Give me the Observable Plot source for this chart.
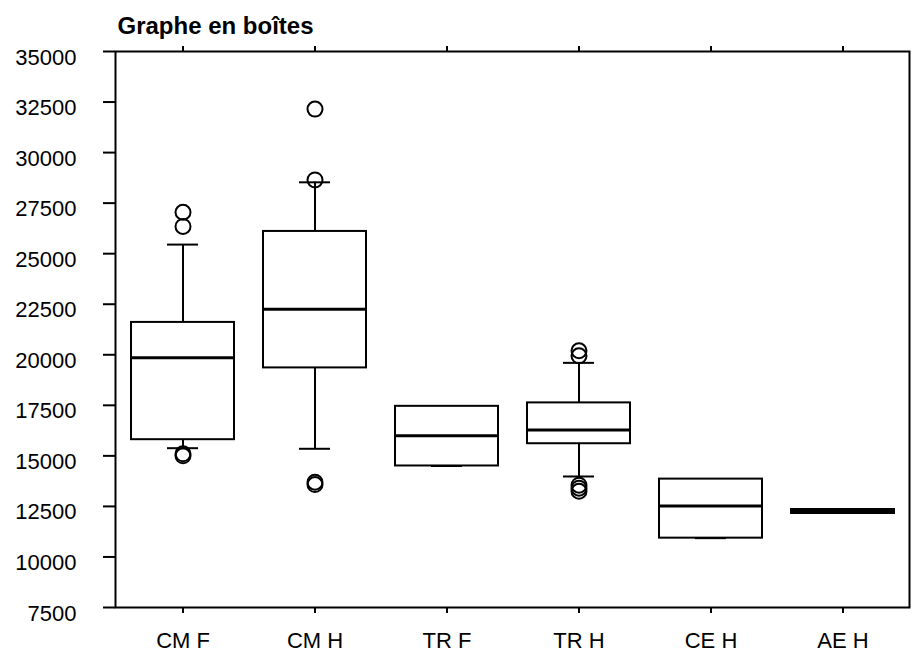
<!DOCTYPE html>
<html>
<head>
<meta charset="utf-8">
<script src="https://cdn.jsdelivr.net/npm/d3@7"></script>
<script src="https://cdn.jsdelivr.net/npm/@observablehq/plot@0.6"></script>
<style>
  html, body { margin: 0; padding: 0; background: #fff; }
  #chart svg { display: block; }
</style>
</head>
<body>
<div id="chart"></div>
<script>
const title = "Graphe en boîtes";
const categories = ["CM F", "CM H", "TR F", "TR H", "CE H", "AE H"];
const q1 =          [15800, 19350, 14500, 15600, 10930, 12220];
const median =      [19850, 22250, 16000, 16280, 12520, 12275];
const q3 =          [21600, 26100, 17450, 17620, 13850, 12330];
const whiskerLow =  [15380, 15350, 14500, 13980, 10930, 12220];
const whiskerHigh = [25450, 28530, 17450, 19600, 13850, 12330];
const outlierCats =   ["CM F", "CM F", "CM F", "CM F", "CM H", "CM H", "CM H", "CM H", "TR H", "TR H", "TR H", "TR H", "TR H"];
const outlierValues = [27050, 26350, 15100, 15000, 32150, 28650, 13700, 13580, 20200, 19950, 13550, 13400, 13250];
const yTicks = [7500, 10000, 12500, 15000, 17500, 20000, 22500, 25000, 27500, 30000, 32500, 35000];

const boxes = categories.map((c, i) => ({cat: c, q1: q1[i], med: median[i], q3: q3[i], lo: whiskerLow[i], hi: whiskerHigh[i]}));
const outliers = outlierCats.map((c, i) => ({cat: c, value: outlierValues[i]}));

const font = "'Liberation Sans', Arial, sans-serif";
const sw = 2;

const chart = Plot.plot({
  width: 913,
  height: 653,
  marginLeft: 115,
  marginRight: 4,
  marginTop: 51,
  marginBottom: 46,
  style: {fontFamily: font, fontSize: "22px", color: "black", background: "white"},
  x: {type: "band", domain: categories, paddingInner: 0.22, paddingOuter: 0.11, axis: null},
  y: {domain: [7500, 35000], axis: null},
  marks: [
    Plot.ruleX(boxes, {x: "cat", y1: "q3", y2: "hi", stroke: "black", strokeWidth: sw}),
    Plot.ruleX(boxes, {x: "cat", y1: "lo", y2: "q1", stroke: "black", strokeWidth: sw}),
    Plot.tickY(boxes, {x: "cat", y: "hi", insetLeft: 36, insetRight: 36, stroke: "black", strokeWidth: sw}),
    Plot.tickY(boxes, {x: "cat", y: "lo", insetLeft: 36, insetRight: 36, stroke: "black", strokeWidth: sw}),
    Plot.barY(boxes, {x: "cat", y1: "q1", y2: "q3", fill: "white", stroke: "black", strokeWidth: sw}),
    Plot.tickY(boxes, {x: "cat", y: "med", stroke: "black", strokeWidth: d => (d.q3 - d.q1 < 500 ? 6 : 3), insetLeft: -1, insetRight: -1}),
    Plot.dot(outliers, {x: "cat", y: "value", r: 7.5, stroke: "black", strokeWidth: sw, fill: "none"}),
    Plot.frame({stroke: "black", strokeWidth: sw}),
    Plot.axisY({ticks: yTicks, tickSize: 12, tickFormat: () => "", label: null, stroke: "black", strokeWidth: sw}),
    Plot.axisY({ticks: yTicks, tickSize: 0, tickPadding: 39, tickFormat: d => String(d), label: null, fontSize: 22, dy: 6, fill: "black"}),
    Plot.axisX({anchor: "bottom", tickSize: 6, tickFormat: () => "", label: null, stroke: "black", strokeWidth: sw}),
    Plot.axisX({anchor: "bottom", tickSize: 0, tickPadding: 25, label: null, fontSize: 22, fill: "black"}),
    Plot.axisX({anchor: "top", tickSize: 6, tickFormat: () => "", label: null, stroke: "black", strokeWidth: sw}),
    Plot.text([title], {frameAnchor: "top-left", text: d => d, dx: 2, dy: -35, lineAnchor: "top", textAnchor: "start", fontSize: 24, fontWeight: "bold", fill: "black"})
  ]
});
document.getElementById("chart").appendChild(chart);
</script>
</body>
</html>
